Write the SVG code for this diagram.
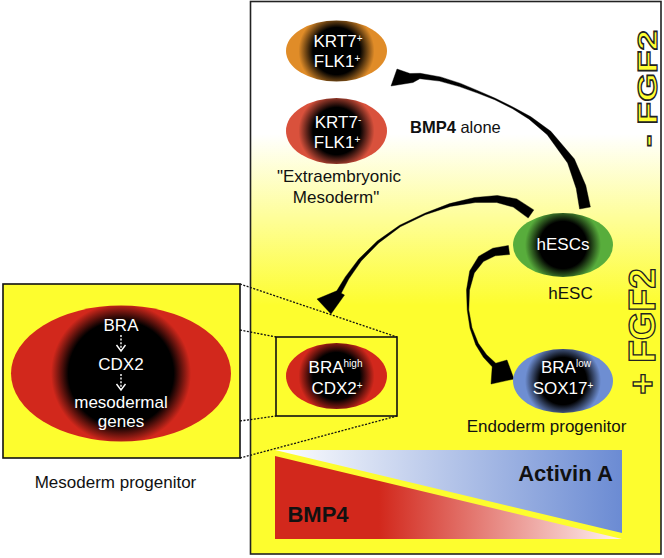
<svg xmlns="http://www.w3.org/2000/svg" width="664" height="558" viewBox="0 0 664 558">
<defs>
<style>
text{font-family:"Liberation Sans",Arial,sans-serif}
.nt{fill:#fff;font-size:17px;text-anchor:middle}
.sup{font-size:10px}
.lbl{fill:#111;font-size:17px;text-anchor:middle}
.fgf{fill:#ffff33;stroke:#222;stroke-width:1.3;font-weight:bold;text-anchor:middle}
.dot{stroke:#111;stroke-width:1.3;stroke-dasharray:2 1.5;fill:none}
.box{fill:none;stroke:#111;stroke-width:1.6}
.arr{fill:#000;stroke:#000;stroke-width:0.4;stroke-linejoin:round}
.wa{stroke:#fff;stroke-width:1.4;fill:none}
</style>
<linearGradient id="bg" x1="0" y1="0" x2="0" y2="1">
<stop offset="0" stop-color="#ffffff"/>
<stop offset="0.24" stop-color="#ffffff"/>
<stop offset="0.55" stop-color="#fdfd2e"/>
<stop offset="1" stop-color="#fdfd2e"/>
</linearGradient>
<radialGradient id="gOr" gradientUnits="userSpaceOnUse" cx="336.5" cy="51" r="38"><stop offset="0.62" stop-color="#000"/><stop offset="1" stop-color="#e08c28"/></radialGradient>
<radialGradient id="gRo" gradientUnits="userSpaceOnUse" cx="336.5" cy="131" r="38"><stop offset="0.62" stop-color="#000"/><stop offset="1" stop-color="#d9513c"/></radialGradient>
<radialGradient id="gGr" gradientUnits="userSpaceOnUse" cx="563" cy="245" r="38"><stop offset="0.62" stop-color="#000"/><stop offset="1" stop-color="#58ad3c"/></radialGradient>
<radialGradient id="gBl" gradientUnits="userSpaceOnUse" cx="563" cy="381" r="38"><stop offset="0.62" stop-color="#000"/><stop offset="1" stop-color="#6e8ed2"/></radialGradient>
<radialGradient id="gRd" gradientUnits="userSpaceOnUse" cx="336.5" cy="376" r="38"><stop offset="0.62" stop-color="#000"/><stop offset="1" stop-color="#d2281c"/></radialGradient>
<radialGradient id="gBig" gradientUnits="userSpaceOnUse" cx="121" cy="373.5" r="70"><stop offset="0.75" stop-color="#000"/><stop offset="1" stop-color="#d2281c"/></radialGradient>
<linearGradient id="gAct" gradientUnits="userSpaceOnUse" x1="275" y1="0" x2="622" y2="0"><stop offset="0" stop-color="#ffffff"/><stop offset="1" stop-color="#6b8bd3"/></linearGradient>
<linearGradient id="gBmp" gradientUnits="userSpaceOnUse" x1="275" y1="0" x2="622" y2="0"><stop offset="0" stop-color="#d2281c"/><stop offset="0.3" stop-color="#d2281c"/><stop offset="1" stop-color="#fff4f4"/></linearGradient>
</defs>

<g id="panel">
<rect x="250.5" y="1.5" width="410.5" height="552.5" fill="url(#bg)" stroke="#222" stroke-width="1.6"/>
</g>

<g id="gradient-bar">
<polygon points="275,450 622,450 622,533" fill="url(#gAct)"/>
<polygon points="275,456 275,539 622,539" fill="url(#gBmp)"/>
<text x="565.5" y="481" font-size="22" font-weight="bold" text-anchor="middle" fill="#111">Activin A</text>
<text x="318" y="522" font-size="22" font-weight="bold" text-anchor="middle" fill="#111">BMP4</text>
</g>

<g id="zoom-box">
<rect x="3" y="284" width="237" height="174" fill="#fdfd2e" stroke="#111" stroke-width="1.6"/>
<ellipse cx="121" cy="373.5" rx="110" ry="68" fill="url(#gBig)"/>
<text class="nt" x="121" y="331" font-size="16.5">BRA</text>
<line class="wa" x1="121" y1="335" x2="121" y2="350" stroke-dasharray="2 1.6"/>
<polyline class="wa" points="116.5,345 121,351 125.5,345"/>
<text class="nt" x="121" y="370">CDX2</text>
<line class="wa" x1="121" y1="374" x2="121" y2="389" stroke-dasharray="2 1.6"/>
<polyline class="wa" points="116.5,384 121,390 125.5,384"/>
<text class="nt" x="121" y="408">mesodermal</text>
<text class="nt" x="121" y="427">genes</text>
<text class="lbl" x="115.5" y="488">Mesoderm progenitor</text>
</g>

<g id="connectors">
<path class="dot" d="M240,284 L397,337 M240,330 L276,337 M240,421 L276,416 M240,458 L397,416"/>
<polygon class="arr" points="590.4,207 585.8,185.6 574.4,159 550.8,131.3 530.9,116.8 513.4,107.3 495.3,98.3 478.4,90.9 460.6,83.4 440.5,76.9 420.2,73.3 410,73.5 397,69 391,86 413,82.5 419.8,78.7 439.5,81.1 459.4,86.6 477.6,93.1 494.7,99.7 512.6,108.7 529.1,119.2 547.2,134.7 567.6,163 576.2,188.4 579.6,209"/>
<polygon class="arr" points="533.8,209.9 516.8,198.9 497.3,195.5 474.7,197.5 449.6,203.6 424.7,213.3 399.6,225.3 377.2,241.1 358.8,259 345.3,276.9 336.8,290.8 317,299 331,314 344.5,295 341.2,293.3 348.7,279.1 361.2,261 378.8,242.9 400.4,226.7 425.3,214.7 450.4,206.4 475.3,202.5 496.7,202.5 513.2,207.1 528.2,218.1"/>
<polygon class="arr" points="508.4,245.5 492.8,248.2 478.6,256.4 469.7,271 466.5,289.8 467.2,310.1 470,328.3 475.7,344.7 483.4,357.3 492.2,366.8 491,384 514,379 507,360 495.8,363.2 486.6,354.7 478.3,343.3 472,327.7 468.8,309.9 469.5,290.2 474.3,273 483.4,261.6 495.2,255.8 509.6,254.5"/>
</g>

<g id="node-krt7p">
<ellipse cx="336.5" cy="51" rx="50.5" ry="30.5" fill="url(#gOr)"/>
<text class="nt" x="338" y="47">KRT7<tspan class="sup" dy="-5">+</tspan></text>
<text class="nt" x="337" y="67">FLK1<tspan class="sup" dy="-5">+</tspan></text>
</g>

<g id="node-krt7m">
<ellipse cx="336.5" cy="131" rx="50.5" ry="33" fill="url(#gRo)"/>
<text class="nt" x="338" y="128">KRT7<tspan class="sup" dy="-5">-</tspan></text>
<text class="nt" x="337" y="148">FLK1<tspan class="sup" dy="-5">+</tspan></text>
<text class="lbl" x="339" y="182">"Extraembryonic</text>
<text class="lbl" x="336" y="203">Mesoderm"</text>
</g>

<g id="label-bmp4">
<text x="410" y="133" font-size="16.5" fill="#111"><tspan font-weight="bold">BMP4</tspan> alone</text>
</g>

<g id="node-hesc">
<ellipse cx="563" cy="245" rx="50" ry="32" fill="url(#gGr)"/>
<text class="nt" x="563" y="250">hESCs</text>
<text class="lbl" x="570.5" y="299">hESC</text>
</g>

<g id="node-endo">
<ellipse cx="563" cy="381" rx="50" ry="32" fill="url(#gBl)"/>
<text class="nt" x="566" y="373">BRA<tspan class="sup" font-size="11" dy="-6">low</tspan></text>
<text class="nt" x="563" y="394">SOX17<tspan class="sup" dy="-5">+</tspan></text>
<text class="lbl" x="546.5" y="432">Endoderm progenitor</text>
</g>

<g id="node-meso">
<rect class="box" x="276" y="337" width="121" height="79"/>
<ellipse cx="336.5" cy="376" rx="50.5" ry="33" fill="url(#gRd)"/>
<text class="nt" x="335.5" y="373">BRA<tspan class="sup" font-size="11" dy="-6">high</tspan></text>
<text class="nt" x="337" y="394">CDX2<tspan class="sup" dy="-5">+</tspan></text>
</g>

<g id="fgf2-labels">
<text class="fgf" font-size="27" textLength="117" lengthAdjust="spacingAndGlyphs" transform="translate(657,88.5) rotate(-90)">- FGF2</text>
<text class="fgf" font-size="37" transform="translate(655,331.5) rotate(-90)">+ FGF2</text>
</g>
</svg>
